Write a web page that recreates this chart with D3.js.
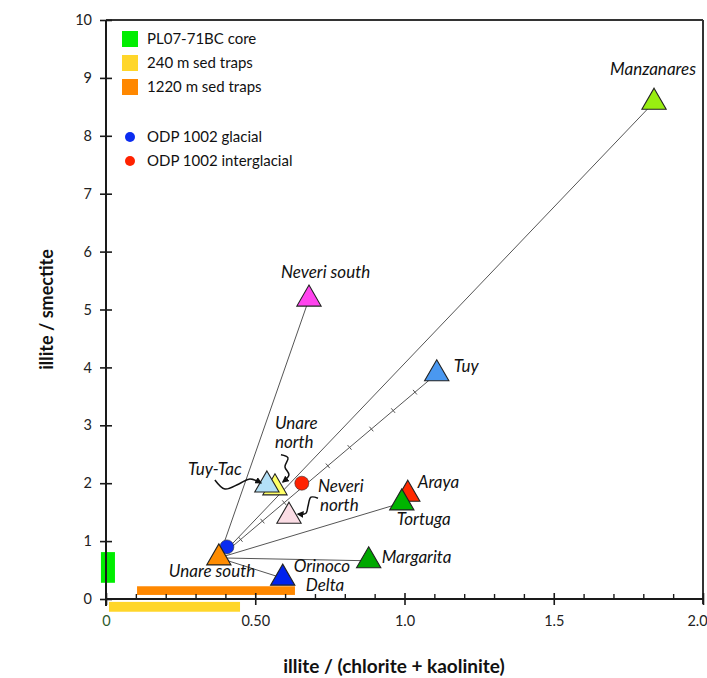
<!DOCTYPE html>
<html><head><meta charset="utf-8">
<script src="https://cdn.jsdelivr.net/npm/d3@7"></script>
<style>
body{margin:0;background:#fff;}
svg{display:block;font-family:Lato,"Open Sans",sans-serif;}
</style></head>
<body><svg id="chart" width="707" height="678"></svg>
<script>
// ---- data ----
const sourceNames  = ["Manzanares","Neveri south","Tuy","Araya","Tortuga","Margarita","Orinoco Delta","Unare south","Tuy-Tac","Unare north","Neveri north"];
const sourceX      = [1.836, 0.680, 1.108, 1.011, 0.991, 0.880, 0.592, 0.378, 0.539, 0.566, 0.613];
const sourceY      = [8.58, 5.18, 3.89, 1.81, 1.66, 0.66, 0.36, 0.71, 1.97, 1.92, 1.43];
const sourceColors = ["#99ee11","#ff44ee","#4a98f0","#ff2a00","#00b400","#00a800","#0022ee","#ff8c00","#b3e0f7","#ffff66","#fbdde5"];

const odpNames  = ["ODP 1002 glacial","ODP 1002 interglacial"];
const odpX      = [0.405, 0.656];
const odpY      = [0.90, 2.00];
const odpColors = ["#0b2cf0","#ff2200"];

// ranges (bars): [xmin, xmax, ymin, ymax]
const rangeNames  = ["PL07-71BC core","240 m sed traps","1220 m sed traps"];
const rangeX0     = [-0.017, 0.010, 0.104];
const rangeX1     = [0.030, 0.449, 0.633];
const rangeY0     = [0.28, -0.22, 0.07];
const rangeY1     = [0.81, -0.05, 0.22];
const rangeColors = ["#00ee00","#ffd62a","#ff8800"];

// mixing lines from Unare south to these sources
const mixFrom = "Unare south";
const mixTo   = ["Manzanares","Neveri south","Tuy","Tortuga","Margarita","Orinoco Delta"];
const tickedLine = "Tuy";
const tickFractions = [0.1,0.2,0.3,0.4,0.5,0.6,0.7,0.8,0.9];

const xMajor = [0, 0.5, 1.0, 1.5, 2.0];
const xMajorLabels = ["0","0.50","1.0","1.5","2.0"];
const xMinor = [0.1,0.2,0.3,0.4,0.6,0.7,0.8,0.9,1.1,1.2,1.3,1.4,1.6,1.7,1.8,1.9];
const yTicks = [0,1,2,3,4,5,6,7,8,9,10];

// ---- layout / style ----
const svg = d3.select("#chart");
const x = d3.scaleLinear().domain([0,2]).range([106,703]);
const y = d3.scaleLinear().domain([0,10]).range([599,20]);
const ink = "#1a1a1a";

// label styling: offsets from marker (px)
const labelStyle = {
  "Manzanares":   [{t:"Manzanares", dx:-1, dy:-27, a:"middle"}],
  "Neveri south": [{t:"Neveri south", dx:-28, dy:-21, a:"start"}],
  "Tuy":          [{t:"Tuy", dx:17, dy:-2, a:"start"}],
  "Araya":        [{t:"Araya", dx:10, dy:-6, a:"start"}],
  "Tortuga":      [{t:"Tortuga", dx:-5, dy:22, a:"start"}],
  "Margarita":    [{t:"Margarita", dx:13, dy:2, a:"start"}],
  "Orinoco Delta":[{t:"Orinoco", dx:11, dy:-6, a:"start"},{t:"Delta", dx:23, dy:13, a:"start"}],
  "Unare south":  [{t:"Unare south", dx:-50, dy:19, a:"start"}],
  "Tuy-Tac":      [{t:"Tuy-Tac", dx:-79, dy:-10, a:"start"}],
  "Unare north":  [{t:"Unare", dx:0, dy:-59, a:"start"},{t:"north", dx:0, dy:-40, a:"start"}],
  "Neveri north": [{t:"Neveri", dx:29, dy:-24, a:"start"},{t:"north", dx:31, dy:-5, a:"start"}]
};
const arrowStyle = {
  "Tuy-Tac":     [[-52,-5],[-42,4],[-28,-1],[-17,-6],[-6,-2]],
  "Unare north": [[6,-33],[13,-30],[10,-21],[14,-13],[8,-6]],
  "Neveri north":[[29,-18],[22,-19],[19,-10],[17,-3],[9,-2]]
};

const sources = sourceNames.map((n,i)=>({name:n, x:sourceX[i], y:sourceY[i], c:sourceColors[i]}));
const byName = Object.fromEntries(sources.map(d=>[d.name,d]));

// ---- frame ----
svg.append("line").attr("x1",x(0)).attr("x2",x(2)).attr("y1",y(10)).attr("y2",y(10))
  .attr("stroke","#333").attr("stroke-width",2);
svg.append("line").attr("x1",x(2)).attr("x2",x(2)).attr("y1",y(10)).attr("y2",y(0)+5)
  .attr("stroke","#333").attr("stroke-width",2);

// ---- range bars ----
svg.append("g").selectAll("rect").data(rangeNames).join("rect")
  .attr("x",(d,i)=>x(rangeX0[i])).attr("width",(d,i)=>x(rangeX1[i])-x(rangeX0[i]))
  .attr("y",(d,i)=>y(rangeY1[i])).attr("height",(d,i)=>y(rangeY0[i])-y(rangeY1[i]))
  .attr("fill",(d,i)=>rangeColors[i]);

// ---- axes ----
const gx = svg.append("g").attr("transform",`translate(0,${y(0)})`);
gx.call(d3.axisBottom(x).tickValues(xMajor).tickSize(6).tickFormat((d,i)=>xMajorLabels[i]));
gx.select(".domain").attr("stroke",ink).attr("stroke-width",2).attr("d",`M${x(0)},0H${x(2)}`);
gx.selectAll(".tick line").attr("y1",-6).attr("stroke",ink).attr("stroke-width",1.6);
gx.selectAll(".tick text").attr("y",17).attr("dy","0.71em").attr("font-size",14.5)
  .attr("dx",(d,i)=>i===xMajor.length-1?-6:0)
  .attr("fill",(d,i)=>i===0?"#2d5a2d":"#222");
const gxm = svg.append("g").attr("transform",`translate(0,${y(0)})`);
gxm.call(d3.axisBottom(x).tickValues(xMinor).tickSize(-5).tickFormat(""));
gxm.select(".domain").remove();
gxm.selectAll(".tick line").attr("stroke",ink).attr("stroke-width",1.4);

const gy = svg.append("g").attr("transform",`translate(${x(0)},0)`);
gy.call(d3.axisLeft(y).tickValues(yTicks).tickSize(6).tickFormat(d3.format("d")));
gy.select(".domain").attr("stroke",ink).attr("stroke-width",2).attr("d",`M0,${y(0)+7}V${y(10)}`);
gy.selectAll(".tick line").attr("x1",6).attr("stroke",ink).attr("stroke-width",1.6);
gy.selectAll(".tick text").attr("x",-14).attr("font-size",14.5).attr("fill","#222");
svg.selectAll(".tick text").style("font-family","Lato,sans-serif");

// axis titles
svg.append("text").attr("x",394).attr("y",673).attr("text-anchor","middle")
  .attr("font-weight","bold").attr("font-size",19).attr("fill","#111")
  .text("illite / (chlorite + kaolinite)");
svg.append("text").attr("transform",`translate(53,${(y(0)+y(10))/2}) rotate(-90)`)
  .attr("text-anchor","middle").attr("font-weight","bold").attr("font-size",18).attr("fill","#111")
  .text("illite / smectite");

// ---- mixing lines ----
const o = byName[mixFrom];
svg.append("g").selectAll("line").data(mixTo).join("line")
  .attr("x1",x(o.x)).attr("y1",y(o.y))
  .attr("x2",d=>x(byName[d].x)).attr("y2",d=>y(byName[d].y))
  .attr("stroke","#555").attr("stroke-width",1);
// ticks along mixing line
{
  const t = byName[tickedLine];
  const x1=x(o.x), y1=y(o.y), x2=x(t.x), y2=y(t.y);
  const L = Math.hypot(x2-x1,y2-y1), nx=-(y2-y1)/L, ny=(x2-x1)/L;
  svg.append("g").selectAll("line").data(tickFractions).join("line")
    .attr("x1",f=>x1+(x2-x1)*f - nx*3).attr("y1",f=>y1+(y2-y1)*f - ny*3)
    .attr("x2",f=>x1+(x2-x1)*f + nx*3).attr("y2",f=>y1+(y2-y1)*f + ny*3)
    .attr("stroke","#555").attr("stroke-width",1);
}

// ---- ODP circles ----
svg.append("g").selectAll("circle").data(odpNames).join("circle")
  .attr("cx",(d,i)=>x(odpX[i])).attr("cy",(d,i)=>y(odpY[i])).attr("r",7)
  .attr("fill",(d,i)=>odpColors[i]).attr("stroke","#333").attr("stroke-width",0.6);

// ---- triangles ----
const tri = d3.symbol().type(d3.symbolTriangle).size(255);
const order = ["Manzanares","Neveri south","Tuy","Araya","Tortuga","Margarita","Orinoco Delta","Unare north","Tuy-Tac","Neveri north","Unare south"];
svg.append("g").selectAll("path").data(order.map(n=>byName[n])).join("path")
  .attr("d",tri).attr("transform",d=>`translate(${x(d.x)},${y(d.y)})`)
  .attr("fill",d=>d.c).attr("stroke","#222").attr("stroke-width",1.1).attr("stroke-linejoin","miter");

// ---- labels ----
const lg = svg.append("g").attr("font-style","italic").attr("font-size",17).attr("fill","#111");
sources.forEach(d=>{
  (labelStyle[d.name]||[]).forEach(l=>{
    lg.append("text").attr("x",x(d.x)+l.dx).attr("y",y(d.y)+l.dy).attr("text-anchor",l.a).text(l.t);
  });
});

// ---- curly arrows ----
svg.append("defs").append("marker").attr("id","ah").attr("viewBox","0 0 10 10")
  .attr("refX",8).attr("refY",5).attr("markerWidth",7).attr("markerHeight",7)
  .attr("orient","auto").attr("markerUnits","userSpaceOnUse")
  .append("path").attr("d","M0,0L10,5L0,10z").attr("fill","#111");
const curl = d3.line().curve(d3.curveCatmullRom.alpha(0.5));
Object.entries(arrowStyle).forEach(([n,pts])=>{
  const d = byName[n];
  svg.append("path").attr("d",curl(pts.map(p=>[x(d.x)+p[0], y(d.y)+p[1]])))
    .attr("fill","none").attr("stroke","#111").attr("stroke-width",1.5).attr("marker-end","url(#ah)");
});

// ---- legend ----
const leg = svg.append("g").attr("font-size",15).attr("fill","#111");
const legOrder = [0,1,2];
legOrder.forEach((i,k)=>{
  leg.append("rect").attr("x",122).attr("y",31+k*24).attr("width",16).attr("height",16).attr("fill",rangeColors[i]);
  leg.append("text").attr("x",147).attr("y",44+k*24).text(rangeNames[i]);
});
odpNames.forEach((n,k)=>{
  leg.append("circle").attr("cx",130).attr("cy",137+k*24).attr("r",5).attr("fill",odpColors[k]);
  leg.append("text").attr("x",147).attr("y",142+k*24).text(n);
});
</script></body></html>
